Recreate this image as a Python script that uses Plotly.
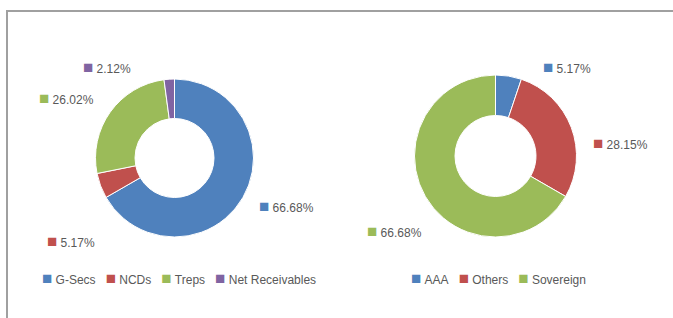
import math
import plotly.graph_objects as go

W, H = 673, 318

# ---- data ----
left_labels = ["G-Secs", "NCDs", "Treps", "Net Receivables"]
left_values = [66.68, 5.17, 26.02, 2.12]
right_labels = ["AAA", "Others", "Sovereign"]
right_values = [5.17, 28.15, 66.68]

# ---- styles ----
BLUE, RED, GREEN, PURPLE = "#4F81BD", "#C0504D", "#9BBB59", "#8064A2"
left_colors = [BLUE, RED, GREEN, PURPLE]
right_colors = [BLUE, RED, GREEN]
TEXT = "#595959"
FONT = "Liberation Sans, Arial, sans-serif"

# pie geometry in pixels (centre, outer radius)
left_geom = ((174.5, 158.0), 79.0)
right_geom = ((495.5, 156.0), 81.0)
label_gap = 18.0
left_nudge = [(0, 0), (12, 49), (-1, -3), (-36, 6)]
right_nudge = [(30, 9), (4, 23), (13, 26)]


def domain(geom):
    (cx, cy), r = geom
    return dict(x=[(cx - r) / W, (cx + r) / W], y=[1 - (cy + r) / H, 1 - (cy - r) / H])


fig = go.Figure()
for labels, values, colors, geom in [
    (left_labels, left_values, left_colors, left_geom),
    (right_labels, right_values, right_colors, right_geom),
]:
    fig.add_trace(go.Pie(
        labels=labels, values=values, hole=0.5, sort=False,
        direction="clockwise", rotation=0, textinfo="none",
        marker=dict(colors=colors, line=dict(color="white", width=1)),
        domain=domain(geom), showlegend=False, hoverinfo="label+percent",
    ))


def square(c):
    return f"<span style='color:{c};font-size:17px'>■</span>"


annotations = []


def add_labels(values, colors, geom, nudges):
    (cx, cy), r = geom
    total = sum(values)
    cum = 0.0
    for v, c, (dx, dy) in zip(values, colors, nudges):
        mid = (cum + v / 2) / total * 2 * math.pi
        cum += v
        s, co = math.sin(mid), math.cos(mid)
        rr = r + label_gap
        px = cx + rr * s + dx
        py = cy - rr * co + dy
        annotations.append(dict(
            x=px / W, y=1 - py / H, xref="paper", yref="paper",
            xanchor="left" if s > 0 else "right", yanchor="middle",
            text=f"{square(c)}&nbsp;{v:.2f}%", showarrow=False,
            font=dict(family=FONT, size=12, color=TEXT), borderpad=0,
        ))


add_labels(left_values, left_colors, left_geom, left_nudge)
add_labels(right_values, right_colors, right_geom, right_nudge)

SEP = "&nbsp;" * 3


def legend_text(labels, colors):
    return SEP.join(f"{square(c)}&nbsp;{l}" for l, c in zip(labels, colors))


for labels, colors, x0 in [(left_labels, left_colors, 41), (right_labels, right_colors, 410)]:
    annotations.append(dict(
        x=x0 / W, y=1 - 278 / H, xref="paper", yref="paper",
        xanchor="left", yanchor="middle", showarrow=False,
        text=legend_text(labels, colors),
        font=dict(family=FONT, size=12, color=TEXT), borderpad=0,
    ))

fig.update_layout(
    width=W, height=H,
    margin=dict(l=0, r=0, t=0, b=0),
    paper_bgcolor="white", plot_bgcolor="white",
    annotations=annotations,
    shapes=[dict(type="rect", xref="paper", yref="paper",
                 x0=7 / W, x1=1.05, y0=-0.1, y1=1 - 11 / H,
                 line=dict(color="#A0A0A0", width=2), layer="below")],
)

fig.write_html("out.html", config={"displayModeBar": False},
               post_script="document.body.style.margin='0';")
